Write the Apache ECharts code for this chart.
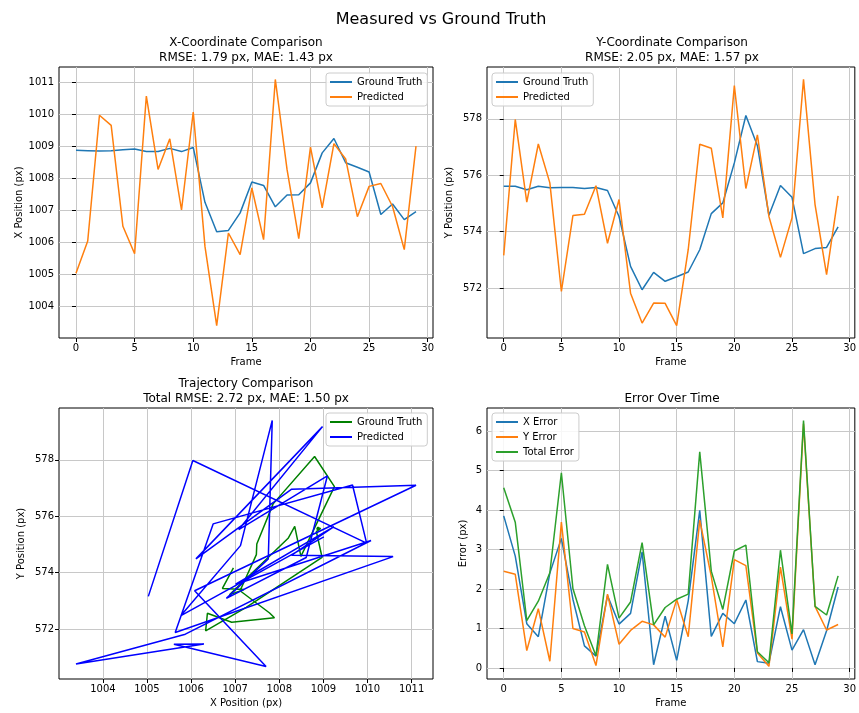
<!DOCTYPE html>
<html>
<head>
<meta charset="utf-8">
<script src="https://cdn.jsdelivr.net/npm/echarts@6.0.0/dist/echarts.min.js"></script>
<style>
html,body{margin:0;padding:0;background:#fff;}
#chart{width:859px;height:713px;}
</style>
</head>
<body>
<div id="chart"></div>
<script>
const frames = [0,1,2,3,4,5,6,7,8,9,10,11,12,13,14,15,16,17,18,19,20,21,22,23,24,25,26,27,28,29];
const xGroundTruth = [1008.88,1008.87,1008.86,1008.87,1008.90,1008.92,1008.84,1008.84,1008.94,1008.84,1008.97,1007.25,1006.33,1006.37,1006.92,1007.89,1007.78,1007.11,1007.48,1007.49,1007.86,1008.80,1009.25,1008.49,1008.35,1008.20,1006.87,1007.20,1006.71,1006.96];
const xPredicted = [1005.03,1006.04,1009.98,1009.66,1006.50,1005.64,1010.58,1008.28,1009.24,1007.01,1010.08,1005.87,1003.39,1006.29,1005.61,1007.70,1006.08,1011.10,1008.28,1006.11,1008.98,1007.08,1009.09,1008.61,1006.80,1007.75,1007.84,1007.12,1005.77,1009.01];
const yGroundTruth = [575.61,575.61,575.49,575.61,575.56,575.57,575.57,575.53,575.57,575.46,574.54,572.77,571.94,572.56,572.24,572.40,572.57,573.36,574.64,575.02,576.44,578.12,577.05,574.58,575.64,575.22,573.22,573.40,573.44,574.17];
const yPredicted = [573.16,577.98,575.05,577.11,575.73,571.88,574.57,574.62,575.63,573.59,575.14,571.82,570.76,571.47,571.46,570.67,573.36,577.10,576.96,574.49,579.18,575.53,577.43,574.54,573.09,574.49,579.40,574.96,572.48,575.27];
const xError = [3.85,2.83,1.12,0.79,2.40,3.28,1.74,0.56,0.30,1.83,1.11,1.38,2.94,0.08,1.31,0.19,1.70,3.99,0.80,1.38,1.12,1.72,0.16,0.12,1.55,0.45,0.97,0.08,0.94,2.05];
const yError = [2.45,2.37,0.44,1.50,0.17,3.69,1.00,0.91,0.06,1.87,0.60,0.95,1.18,1.09,0.78,1.73,0.79,3.74,2.32,0.53,2.74,2.59,0.38,0.04,2.55,0.73,6.18,1.56,0.96,1.10];
const totalError = [4.56,3.69,1.20,1.69,2.41,4.94,2.01,1.07,0.31,2.62,1.26,1.67,3.17,1.09,1.53,1.74,1.87,5.47,2.45,1.48,2.96,3.11,0.41,0.13,2.98,0.86,6.26,1.56,1.34,2.33];

const frameTicks = [0,5,10,15,20,25,30];
const xPosTicks = [1004,1005,1006,1007,1008,1009,1010,1011];
const yPosTicks = [572,574,576,578];
const errorTicks = [0,1,2,3,4,5,6];

const C0 = '#1f77b4', C1 = '#ff7f0e', C2 = '#2ca02c';
const FONT = 'DejaVu Sans';

function pairs(a, b){ return a.map((v,i)=>[v, b[i]]); }

function axis(gridIndex, min, max, ticks, name, nameGap){
  return {
    type: 'value', gridIndex, min, max,
    name, nameLocation: 'middle', nameGap,
    nameTextStyle: {fontFamily: FONT, fontSize: 10, color: '#000'},
    axisLine: {show: false},
    axisTick: {show: true, inside: false, length: 4, customValues: ticks, lineStyle: {color: '#000', width: 1}},
    axisLabel: {show: true, customValues: ticks, margin: 5, fontFamily: FONT, fontSize: 10, color: '#000', formatter: v => String(v)},
    splitLine: {show: true, lineStyle: {color: '#c8c8c8', width: 1}},
    scale: true
  };
}

function line(name, data, color, xi, yi, width){
  return {
    type: 'line', name, data, xAxisIndex: xi, yAxisIndex: yi,
    showSymbol: false, symbol: 'none', smooth: false,
    lineStyle: {color, width: width || 1.5},
    itemStyle: {color},
    emphasis: {disabled: true},
    silent: true, z: 3
  };
}

function legend(left, top, items){
  return {
    left, top, orient: 'vertical',
    icon: 'rect', itemWidth: 22, itemHeight: 2, itemGap: 3,
    padding: [3, 5, 3, 4],
    backgroundColor: 'rgba(255,255,255,0.85)',
    borderColor: '#cccccc', borderWidth: 1, borderRadius: 3,
    textStyle: {fontFamily: FONT, fontSize: 10, color: '#000', lineHeight: 12},
    selectedMode: false,
    data: items.map(it => ({name: it[0], itemStyle: {color: it[1]}}))
  };
}

const grids = [
  {left: 59, top: 67, width: 374, height: 271},
  {left: 487, top: 67, width: 370, height: 271},
  {left: 59, top: 408, width: 374, height: 271},
  {left: 487, top: 408, width: 370, height: 271}
].map(g => Object.assign(g, {show: true, borderColor: '#000', borderWidth: 1, backgroundColor: 'transparent', containLabel: false}));

const titleStyle = {fontFamily: FONT, fontSize: 12, fontWeight: 'normal', color: '#000', lineHeight: 15};

const option = {
  animation: false,
  backgroundColor: '#fff',
  title: [
    {text: 'Measured vs Ground Truth', left: 436, top: 7, textAlign: 'center', textStyle: {fontFamily: FONT, fontSize: 16, fontWeight: 'normal', color: '#000'}},
    {text: 'X-Coordinate Comparison\nRMSE: 1.79 px, MAE: 1.43 px', left: 246, top: 35, textAlign: 'center', textStyle: titleStyle, padding: 0},
    {text: 'Y-Coordinate Comparison\nRMSE: 2.05 px, MAE: 1.57 px', left: 672, top: 35, textAlign: 'center', textStyle: titleStyle, padding: 0},
    {text: 'Trajectory Comparison\nTotal RMSE: 2.72 px, MAE: 1.50 px', left: 246, top: 376, textAlign: 'center', textStyle: titleStyle, padding: 0},
    {text: 'Error Over Time', left: 672, top: 391, textAlign: 'center', textStyle: titleStyle, padding: 0}
  ],
  legend: [
    legend(326, 73, [['Ground Truth', C0], ['Predicted', C1]]),
    legend(492, 73, [['Ground Truth', C0], ['Predicted', C1]]),
    legend(326, 413, [['Ground Truth', 'green'], ['Predicted', 'blue']]),
    legend(492, 413, [['X Error', C0], ['Y Error', C1], ['Total Error', C2]])
  ],
  grid: grids,
  xAxis: [
    axis(0, -1.45, 30.45, frameTicks, 'Frame', 19),
    axis(1, -1.45, 30.45, frameTicks, 'Frame', 19),
    axis(2, 1003.005, 1011.485, xPosTicks, 'X Position (px)', 19),
    axis(3, -1.45, 30.45, frameTicks, 'Frame', 19)
  ],
  yAxis: [
    axis(0, 1003.0, 1011.49, xPosTicks, 'X Position (px)', 35),
    axis(1, 570.23, 579.84, yPosTicks, 'Y Position (px)', 33),
    axis(2, 570.23, 579.84, yPosTicks, 'Y Position (px)', 33),
    axis(3, -0.28, 6.58, errorTicks, 'Error (px)', 19)
  ],
  series: [
    line('Ground Truth', pairs(frames, xGroundTruth), C0, 0, 0),
    line('Predicted', pairs(frames, xPredicted), C1, 0, 0),
    line('Ground Truth', pairs(frames, yGroundTruth), C0, 1, 1),
    line('Predicted', pairs(frames, yPredicted), C1, 1, 1),
    line('Ground Truth', pairs(xGroundTruth, yGroundTruth), 'green', 2, 2),
    line('Predicted', pairs(xPredicted, yPredicted), 'blue', 2, 2),
    line('X Error', pairs(frames, xError), C0, 3, 3),
    line('Y Error', pairs(frames, yError), C1, 3, 3),
    line('Total Error', pairs(frames, totalError), C2, 3, 3)
  ]
};

const chart = echarts.init(document.getElementById('chart'), null, {renderer: 'canvas'});
chart.setOption(option);
</script>
</body>
</html>
